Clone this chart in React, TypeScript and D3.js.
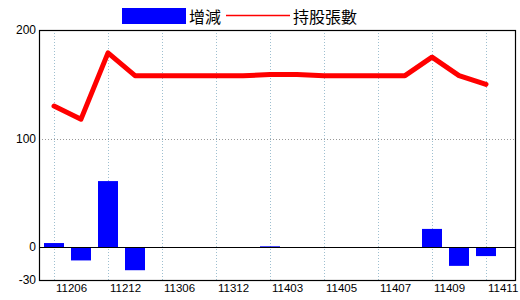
import React from "react";
import * as d3 from "d3";

const categories = [
  "11206", "11209", "11212", "11303", "11306", "11309", "11312", "11402", "11403",
  "11404", "11405", "11406", "11407", "11408", "11409", "11410", "11411",
];
const holdings = [130, 118, 179, 158, 158, 158, 158, 158, 159, 159, 158, 158, 158, 158, 175, 158, 150];
const changes = [4, -12, 61, -21, 0, 0, 0, 0, 1, 0, 0, 0, 0, 0, 17, -17, -8];
const yTicks = [200, 100, 0, -30];
const labelEvery = 2;

const W = 520;
const H = 300;
const left = 39;
const right = 516;
const top = 30;
const bottom = 280;

export default function App() {
  const x = d3.scaleLinear().domain([0, categories.length - 1]).range([54, 486]);
  const y = d3.scaleLinear().domain([-30, 200]).range([bottom, top]);
  const line = d3
    .line<number>()
    .x((_, i) => x(i))
    .y((d) => y(d));
  const barW = 20;
  const font = "'Liberation Sans', Arial, sans-serif";
  return (
    <svg
      width={W}
      height={H}
      style={{ position: "absolute", left: 0, top: 0, background: "#fff" }}
    >
      <rect x={0} y={0} width={W} height={H} fill="#fff" />
      {/* legend */}
      <rect x={122} y={8} width={64} height={16} fill="#0000ff" />
      <text
        x={189}
        y={16}
        fontSize={16}
        dominantBaseline="central"
        fontFamily="'Noto Sans CJK TC', sans-serif"
        fill="#000"
      >
        增減
      </text>
      <line x1={226} x2={290} y1={15.5} y2={15.5} stroke="#ff0000" strokeWidth={1.5} />
      <text
        x={293}
        y={16}
        fontSize={16}
        dominantBaseline="central"
        fontFamily="'Noto Sans CJK TC', sans-serif"
        fill="#000"
      >
        持股張數
      </text>
      {/* grid */}
      {categories.map((c, i) =>
        i % labelEvery === 0 ? (
          <line
            key={"g" + c}
            x1={Math.round(x(i)) + 0.5}
            x2={Math.round(x(i)) + 0.5}
            y1={top}
            y2={bottom}
            stroke="#9ebfd0"
            strokeDasharray="1,2"
          />
        ) : null
      )}
      <line
        x1={left}
        x2={right}
        y1={Math.round(y(100)) + 0.5}
        y2={Math.round(y(100)) + 0.5}
        stroke="#999"
        strokeDasharray="1,2"
      />
      {/* bars */}
      {changes.map((v, i) => (
        <rect
          key={"b" + i}
          x={x(i) - barW / 2}
          y={Math.min(y(v), y(0))}
          width={barW}
          height={Math.abs(y(v) - y(0))}
          fill="#0000ff"
        />
      ))}
      {/* zero line */}
      <line
        x1={left}
        x2={right}
        y1={Math.round(y(0)) + 0.5}
        y2={Math.round(y(0)) + 0.5}
        stroke="#000"
        strokeWidth={1.2}
      />
      {/* line series */}
      <path
        d={line(holdings) || ""}
        fill="none"
        stroke="#ff0000"
        strokeWidth={5}
        strokeLinejoin="round"
        strokeLinecap="round"
      />
      {/* frame */}
      <rect
        x={left + 0.5}
        y={top + 0.5}
        width={right - left - 1}
        height={bottom - top}
        fill="none"
        stroke="#000"
        strokeWidth={1.2}
      />
      {/* y labels */}
      {yTicks.map((t) => (
        <text
          key={"y" + t}
          x={36}
          y={y(t)}
          fontSize={12}
          textAnchor="end"
          dominantBaseline="central"
          fontFamily={font}
          fill="#000"
        >
          {t}
        </text>
      ))}
      {/* x labels */}
      {categories.map((c, i) =>
        i % labelEvery === 0 ? (
          <text
            key={"x" + c}
            x={x(i) + 2}
            y={292}
            fontSize={11.5}
            fontFamily={font}
            fill="#000"
          >
            {c}
          </text>
        ) : null
      )}
    </svg>
  );
}
